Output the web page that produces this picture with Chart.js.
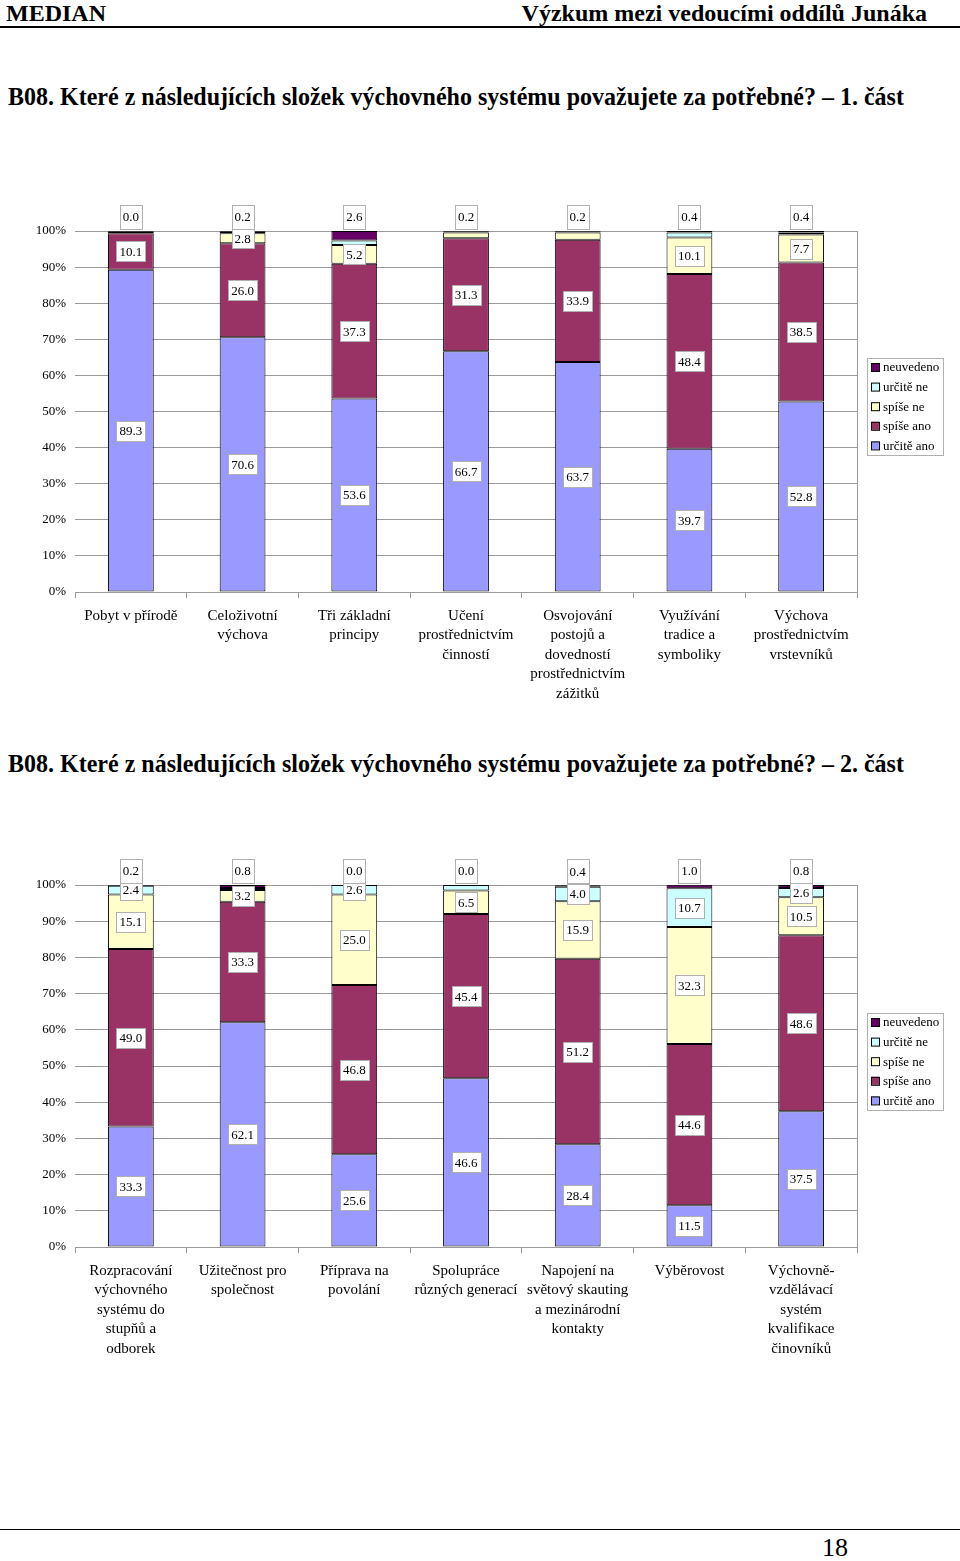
<!DOCTYPE html>
<html>
<head>
<meta charset="utf-8">
<script src="https://cdn.jsdelivr.net/npm/chart.js@4/dist/chart.umd.min.js"></script>
<style>
  body { margin: 0; background: #fff; width: 960px; height: 1561px; position: relative; overflow: hidden; font-family: "Liberation Serif", serif; }
  .hdr { position: absolute; top: 0; font-weight: bold; font-size: 24px; line-height: 26px; }
  .rule { position: absolute; left: 0; width: 960px; background: #000; }
  .title { position: absolute; left: 8px; font-weight: bold; font-size: 24px; line-height: 28px; white-space: nowrap; transform: scaleY(1.06); transform-origin: left center; }
  canvas { position: absolute; left: 0; }
</style>
</head>
<body>
<div class="hdr" style="left:6px">MEDIAN</div>
<div class="hdr" style="right:33px">Výzkum mezi vedoucími oddílů Junáka</div>
<div class="rule" style="top:26px;height:2px"></div>
<div class="title" style="top:83px">B08. Které z následujících složek výchovného systému považujete za potřebné? – 1. část</div>
<canvas id="chart1" width="960" height="510" style="top:200px"></canvas>
<div class="title" style="top:750px">B08. Které z následujících složek výchovného systému považujete za potřebné? – 2. část</div>
<canvas id="chart2" width="960" height="510" style="top:855px"></canvas>
<div class="rule" style="top:1529px;height:1px"></div>
<div style="position:absolute;left:822px;top:1533px;font-size:26px">18</div>

<script>
// Series (bottom to top of each bar)
const seriesNames = ['určitě ano', 'spíše ano', 'spíše ne', 'určitě ne', 'neuvedeno'];
const seriesColors = ['#9999FF', '#993366', '#FFFFCC', '#CCFFFF', '#660066'];

// Part 1
const categories1 = [
    ['Pobyt v přírodě'],
    ['Celoživotní', 'výchova'],
    ['Tři základní', 'principy'],
    ['Učení', 'prostřednictvím', 'činností'],
    ['Osvojování', 'postojů a', 'dovedností', 'prostřednictvím', 'zážitků'],
    ['Využívání', 'tradice a', 'symboliky'],
    ['Výchova', 'prostřednictvím', 'vrstevníků']
];
const urciteAno1 = [89.3, 70.6, 53.6, 66.7, 63.7, 39.7, 52.8];
const spiseAno1 = [10.1, 26.0, 37.3, 31.3, 33.9, 48.4, 38.5];
const spiseNe1 = [0.5, 2.8, 5.2, 1.6, 2.0, 10.1, 7.7];
const urciteNe1 = [0.1, 0.4, 1.3, 0.2, 0.2, 1.4, 0.6];
const neuvedeno1 = [0.0, 0.2, 2.6, 0.2, 0.2, 0.4, 0.4];

// Part 2
const categories2 = [
    ['Rozpracování', 'výchovného', 'systému do', 'stupňů a', 'odborek'],
    ['Užitečnost pro', 'společnost'],
    ['Příprava na', 'povolání'],
    ['Spolupráce', 'různých generací'],
    ['Napojení na', 'světový skauting', 'a mezinárodní', 'kontakty'],
    ['Výběrovost'],
    ['Výchovně-', 'vzdělávací', 'systém', 'kvalifikace', 'činovníků']
];
const urciteAno2 = [33.3, 62.1, 25.6, 46.6, 28.4, 11.5, 37.5];
const spiseAno2 = [49.0, 33.3, 46.8, 45.4, 51.2, 44.6, 48.6];
const spiseNe2 = [15.1, 3.2, 25.0, 6.5, 15.9, 32.3, 10.5];
const urciteNe2 = [2.4, 0.6, 2.6, 1.5, 4.0, 10.7, 2.6];
const neuvedeno2 = [0.2, 0.8, 0.0, 0.0, 0.4, 1.0, 0.8];

const yTicks = [0, 10, 20, 30, 40, 50, 60, 70, 80, 90, 100];

const SERIF = '"Liberation Serif", "Times New Roman", serif';
const GRID = '#9a9a9a';

// Value boxes in the middle of each segment; the top series sits above the bar
const segmentLabels = {
    id: 'segmentLabels',
    afterDatasetsDraw(chart) {
        const ctx = chart.ctx;
        const sets = chart.data.datasets;
        ctx.save();
        ctx.font = '13px ' + SERIF;
        ctx.textAlign = 'center';
        ctx.textBaseline = 'middle';
        sets.forEach((ds, di) => {
            const last = di === sets.length - 1;
            chart.getDatasetMeta(di).data.forEach((bar, i) => {
                const v = ds.data[i];
                if (!last && v < 2.2) return;
                const y = last ? bar.y - 14 : (bar.y + bar.base) / 2;
                const text = v.toFixed(1);
                const w = Math.round(ctx.measureText(text).width) + 6;
                const h = last ? 24 : 20;
                const x0 = Math.round(bar.x - w / 2) + 0.5;
                const y0 = Math.round(y - h / 2) + 0.5;
                ctx.fillStyle = '#fff';
                ctx.fillRect(x0, y0, w, h);
                ctx.strokeStyle = '#b0b0b0';
                ctx.lineWidth = 1;
                ctx.strokeRect(x0, y0, w, h);
                ctx.fillStyle = '#000';
                ctx.fillText(text, bar.x, y + 1);
            });
        });
        ctx.restore();
    }
};

// Right border of the plot and the boxed legend on the right
const frameAndLegend = {
    id: 'frameAndLegend',
    afterDraw(chart) {
        const ctx = chart.ctx;
        const a = chart.chartArea;
        ctx.save();
        ctx.strokeStyle = GRID;
        ctx.lineWidth = 1;
        ctx.beginPath();
        ctx.moveTo(Math.round(a.right) + 0.5, a.top);
        ctx.lineTo(Math.round(a.right) + 0.5, a.bottom);
        ctx.stroke();

        const sets = chart.data.datasets.slice().reverse();
        const lx = Math.round(a.right) + 10;
        const row = 19.6;
        const lh = 97;
        const ly = Math.round((a.top + a.bottom) / 2 - 5 - lh / 2);
        ctx.strokeStyle = '#b0b0b0';
        ctx.strokeRect(lx + 0.5, ly + 0.5, 76, lh);
        ctx.font = '13px ' + SERIF;
        ctx.textBaseline = 'middle';
        ctx.textAlign = 'left';
        sets.forEach((ds, i) => {
            const cy = ly + 9 + i * row;
            ctx.fillStyle = ds.backgroundColor;
            ctx.fillRect(lx + 4, cy - 4, 8, 8);
            ctx.strokeStyle = '#000';
            ctx.strokeRect(lx + 4.5, cy - 3.5, 8, 8);
            ctx.fillStyle = '#000';
            ctx.fillText(ds.label, lx + 16, cy + 1);
        });
        ctx.restore();
    }
};

function makeChart(id, categories, values, top) {
    new Chart(document.getElementById(id), {
        type: 'bar',
        data: {
            labels: categories,
            datasets: values.map((d, i) => ({
                label: seriesNames[i],
                data: d,
                backgroundColor: seriesColors[i],
                borderColor: '#000',
                borderWidth: 1,
                borderSkipped: false,
                categoryPercentage: 1,
                barPercentage: 0.41
            }))
        },
        options: {
            responsive: false,
            animation: false,
            layout: { padding: { top: top, right: 103, left: 0, bottom: 0 } },
            plugins: { legend: { display: false }, tooltip: { enabled: false } },
            scales: {
                x: {
                    stacked: true,
                    afterFit: s => { s.height = 118; },
                    grid: { offset: true, drawOnChartArea: false, tickLength: 6, color: GRID },
                    border: { color: GRID },
                    ticks: {
                        color: '#000', padding: 8, maxRotation: 0, autoSkip: false,
                        font: { family: SERIF, size: 15, lineHeight: 1.3 }
                    }
                },
                y: {
                    stacked: true,
                    min: 0, max: 100,
                    afterFit: s => { s.width = 75; },
                    afterBuildTicks: s => { s.ticks = yTicks.map(v => ({ value: v })); },
                    grid: { color: GRID, drawTicks: false },
                    border: { display: false },
                    ticks: {
                        color: '#000', padding: 9,
                        font: { family: SERIF, size: 13 },
                        callback: v => v + '%'
                    }
                }
            }
        },
        plugins: [segmentLabels, frameAndLegend]
    });
}

makeChart('chart1', categories1, [urciteAno1, spiseAno1, spiseNe1, urciteNe1, neuvedeno1], 31);
makeChart('chart2', categories2, [urciteAno2, spiseAno2, spiseNe2, urciteNe2, neuvedeno2], 30);
</script>
</body>
</html>
